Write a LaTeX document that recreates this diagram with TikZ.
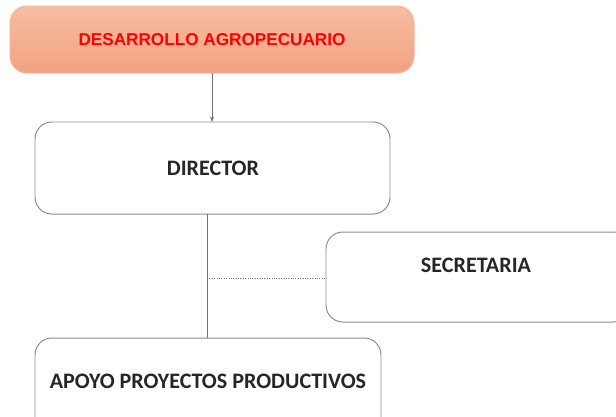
\documentclass[tikz,border=0pt]{standalone}
\usepackage{fontspec}
\setmainfont{Carlito}
\newfontfamily\arialfont{Liberation Sans}
\usetikzlibrary{positioning, arrows.meta}

\definecolor{boxline}{HTML}{8C8C8C}
\definecolor{salmontop}{HTML}{F6BDA3}
\definecolor{salmonbot}{HTML}{F3A27F}
\definecolor{headred}{HTML}{FF0000}

\begin{document}
\begin{tikzpicture}[x=0.025cm, y=-0.025cm,
    unitbox/.style={draw=boxline, rounded corners=12, line width=0.7pt, fill=white},
    unittext/.style={font=\bfseries\fontsize{15.7}{18}\selectfont, text=black!85},
    link/.style={draw=black!55, line width=0.7pt}]

\useasboundingbox (0,0) rectangle (616,416);

% top box
\shade[top color=salmontop, bottom color=salmonbot, draw=salmonbot!80!white, rounded corners=12, line width=0.7pt]
    (10,6) rectangle (414,73);
\node[font=\arialfont\bfseries\fontsize{12.2}{15}\selectfont, text=headred] (desarrollo) at (212,40) {DESARROLLO AGROPECUARIO};
\coordinate (topout) at (212,73);

% boxes
\draw[unitbox] (35,122) rectangle (390,214);
\node[unittext] (director) at (213,168) {DIRECTOR};
\coordinate (dirin) at (212,122);
\coordinate (dirout) at (207,214);

\draw[unitbox] (326,232) rectangle (630,322);
\node[unittext] (secretaria) at (476,265) {SECRETARIA};
\coordinate (secin) at (326,278);

\draw[unitbox] (35,338) rectangle (381,440);
\node[unittext] (apoyo) at (208,381) {APOYO PROYECTOS PRODUCTIVOS};
\coordinate (apoyoin) at (207,338);

% connectors
\draw[link, -{Stealth[length=4pt, width=3pt]}] (topout) -- (dirin);
\draw[link] (dirout) -- (apoyoin);
\coordinate (branch) at (207,278);
\draw[link, densely dotted, line width=0.5pt] (branch) -- (secin);

\end{tikzpicture}
\end{document}
